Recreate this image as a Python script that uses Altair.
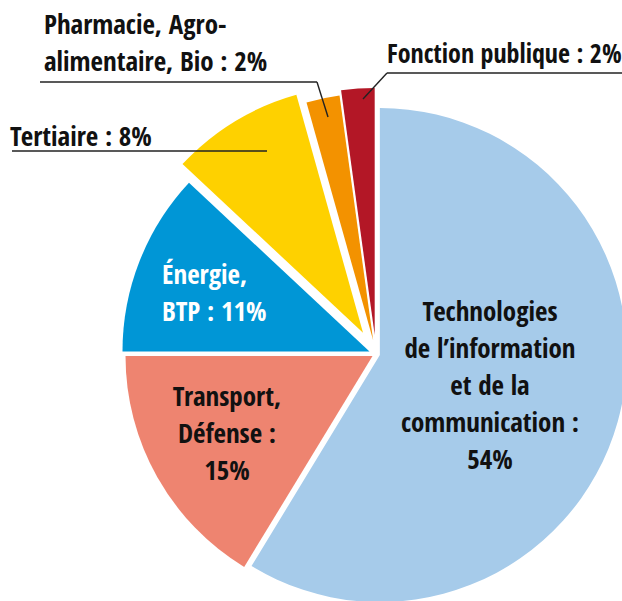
import altair as alt
import pandas as pd

# ---- data ----
categories = [
    "Technologies de l'information et de la communication",
    "Transport, Défense",
    "Énergie, BTP",
    "Tertiaire",
    "Pharmacie, Agro-alimentaire, Bio",
    "Fonction publique",
]
values = [54, 15, 11, 8, 2, 2]
slice_order = [1, 2, 3, 4, 5, 6]

# ---- styles / layout ----
colors = ["#A6CBEA", "#EE8470", "#0096D6", "#FED100", "#F39200", "#B31726"]
explode_px = [4, 4, 7, 25, 14, 19]
CX, CY, R = 376, 354, 247
FONT = "Open Sans Condensed"

df = pd.DataFrame({
    "cat": categories,
    "value": values,
    "ord": slice_order,
    "explode": explode_px,
})

base = alt.Chart(df).transform_window(
    cum="sum(value)", sort=[alt.SortField("ord")], frame=[None, 0]
).transform_joinaggregate(
    total="sum(value)"
).transform_calculate(
    start="datum.cum - datum.value",
    mid="(datum.cum - datum.value/2) / datum.total * 2 * PI",
).transform_calculate(
    px=f"{CX} + datum.explode * sin(datum.mid)",
    py=f"{CY} - datum.explode * cos(datum.mid)",
)

pie = base.mark_arc(outerRadius=R, stroke=None).encode(
    theta=alt.Theta("start:Q", scale=alt.Scale(domain=[0, sum(values)], range=[0, 6.283185307179586]), stack=None),
    theta2=alt.Theta2("cum:Q"),
    x=alt.X("px:Q", scale=None),
    y=alt.Y("py:Q", scale=None),
    color=alt.Color("cat:N", scale=alt.Scale(domain=categories, range=colors), legend=None),
    order=alt.Order("ord:Q"),
)

# ---- labels (annotation layout) ----
label_text = [
    "Technologies\nde l’information\net de la\ncommunication :\n54%",
    "Transport,\nDéfense :\n15%",
    "Énergie,\nBTP : 11%",
    "Tertiaire : 8%",
    "Pharmacie, Agro-\nalimentaire, Bio : 2%",
    "Fonction publique : 2%",
]
label_x = [490, 227, 162, 10, 44, 387]
label_y = [321, 406, 284, 146, 34, 63]
label_align = ["center", "center", "left", "left", "left", "left"]
label_color = ["#111111", "#111111", "#FFFFFF", "#111111", "#111111", "#111111"]
label_size = [27, 27, 27, 27, 27, 26]

labels = pd.DataFrame({
    "t": label_text, "x": label_x, "y": label_y,
    "align": label_align, "col": label_color, "fs": label_size,
})

text_layers = []
for al in ["center", "left"]:
    text_layers.append(
        alt.Chart(labels).transform_filter(f"datum.align == '{al}'").mark_text(
            font=FONT, fontWeight="bold", align=al,
            baseline="alphabetic", lineBreak="\n", lineHeight=37,
        ).encode(
            x=alt.X("x:Q", scale=None),
            y=alt.Y("y:Q", scale=None),
            text="t:N",
            color=alt.Color("col:N", scale=None),
            size=alt.Size("fs:Q", scale=None),
        )
    )

# leader lines
seg = pd.DataFrame({
    "x": [40, 317, 387, 387, 12],
    "y": [82, 82, 73, 73, 151],
    "x2": [317, 328, 622, 363, 267],
    "y2": [82, 117, 73, 99, 151],
})
leaders = alt.Chart(seg).mark_rule(color="#222222", strokeWidth=1.4).encode(
    x=alt.X("x:Q", scale=None), y=alt.Y("y:Q", scale=None),
    x2="x2:Q", y2="y2:Q",
)

chart = alt.layer(pie, leaders, *text_layers).properties(
    width=622, height=601, padding=0, autosize="none",
    background="white",
).configure_view(stroke=None)

chart.save("out.html", embed_options={"renderer": "svg", "actions": False})
